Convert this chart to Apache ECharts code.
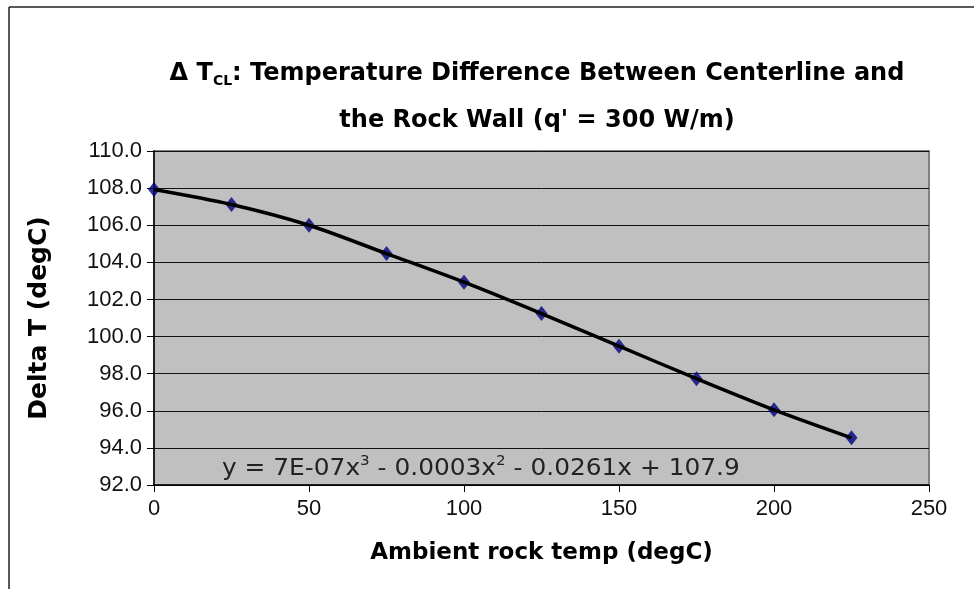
<!DOCTYPE html>
<html><head><meta charset="utf-8">
<script src="https://cdn.jsdelivr.net/npm/echarts@6/dist/echarts.min.js"></script>
<style>html,body{margin:0;padding:0;background:#fff}#c{width:974px;height:589px}</style>
</head><body><div id="c"></div>
<script>
const ambientTemp = [0, 25, 50, 75, 100, 125, 150, 175, 200, 225];
const deltaT = [107.93, 107.12, 106.0, 104.47, 102.93, 101.24, 99.48, 97.73, 96.05, 94.54];
const xTicks = [0, 50, 100, 150, 200, 250];
const yTicks = [92, 94, 96, 98, 100, 102, 104, 106, 108, 110];
const titleLine1 = ': Temperature Difference Between Centerline and';
const titleLine2 = "the Rock Wall (q' = 300 W/m)";
const xName = 'Ambient rock temp (degC)';
const yName = 'Delta T (degC)';

const pts = ambientTemp.map((x, i) => [x, deltaT[i]]);
const chart = echarts.init(document.getElementById('c'));
const F = 'DejaVu Sans';
const L = 'Liberation Sans';
chart.setOption({
  animation: false,
  backgroundColor: '#fff',
  title: {
    left: 532, top: 45, textAlign: 'center',
    text: '{a|Δ T}{s|CL}{a|' + titleLine1 + '}\n{a|' + titleLine2 + '}',
    textStyle: {
      rich: {
        a: { fontFamily: F, fontWeight: 'bold', fontSize: 24, color: '#000', lineHeight: 47 },
        s: { fontFamily: F, fontWeight: 'bold', fontSize: 14, color: '#000', verticalAlign: 'middle', lineHeight: 16, padding: [15, 0, 0, 0] }
      }
    }
  },
  grid: { left: 154, right: 45, top: 151, bottom: 104, show: true, backgroundColor: '#C0C0C0', borderColor: '#808080', borderWidth: 2 },
  xAxis: {
    type: 'value', min: 0, max: 250, interval: 50,
    name: xName, nameLocation: 'middle', nameGap: 57,
    nameTextStyle: { fontFamily: F, fontWeight: 'bold', fontSize: 23, color: '#000' },
    axisLine: { lineStyle: { color: '#000', width: 1.5 } },
    axisTick: { show: true, length: 7, lineStyle: { color: '#000' } },
    axisLabel: { fontFamily: L, fontSize: 22, color: '#111', margin: 13 },
    splitLine: { show: false }
  },
  yAxis: {
    type: 'value', min: 92, max: 110, interval: 2,
    name: yName, nameLocation: 'middle', nameGap: 102,
    nameTextStyle: { fontFamily: F, fontWeight: 'bold', fontSize: 25, color: '#000' },
    axisLine: { show: true, lineStyle: { color: '#000', width: 1.5 } },
    axisTick: { show: true, length: 7, lineStyle: { color: '#000' } },
    axisLabel: { fontFamily: L, fontSize: 22, color: '#111', margin: 12, formatter: v => v.toFixed(1) },
    splitLine: { show: true, lineStyle: { color: '#111', width: 1 } }
  },
  series: [
    {
      type: 'scatter', data: pts, symbol: 'diamond', symbolSize: [12, 15],
      itemStyle: { color: '#000080' }, z: 2
    },
    {
      type: 'line', data: pts, smooth: 0.3, showSymbol: false, symbol: 'none',
      lineStyle: { color: '#000', width: 3.5 }, z: 3
    }
  ],
  graphic: [
    { type: 'line', shape: { x1: 9, y1: 7, x2: 974, y2: 7 }, style: { stroke: '#222', lineWidth: 1.5 } },
    { type: 'line', shape: { x1: 9, y1: 7, x2: 9, y2: 589 }, style: { stroke: '#222', lineWidth: 1.5 } },
    {
      type: 'text', x: 222, y: 455, scaleX: 1.08, z: 10,
      style: {
        text: '{a|y = 7E-07x}{s|3}{a| - 0.0003x}{s|2}{a| - 0.0261x + 107.9}',
        rich: {
          a: { fontFamily: F, fontSize: 23, fill: '#222', lineHeight: 28 },
          s: { fontFamily: F, fontSize: 14, fill: '#222', verticalAlign: 'middle', lineHeight: 16, padding: [0, 0, 16, 0] }
        }
      }
    }
  ]
});
</script></body></html>
